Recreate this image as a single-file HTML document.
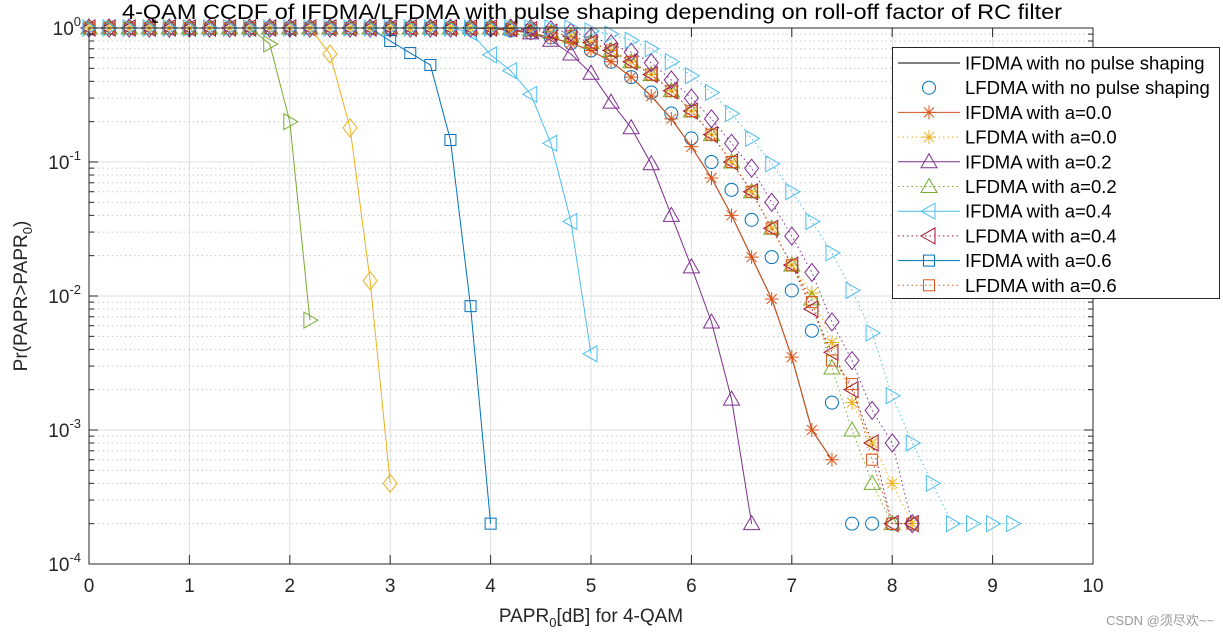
<!DOCTYPE html>
<html><head><meta charset="utf-8"><style>
body{margin:0;background:#fff;width:1223px;height:637px;overflow:hidden;font-family:"Liberation Sans",Arial,sans-serif}
svg text{font-family:"Liberation Sans",Arial,sans-serif}
</style></head><body>
<svg id="chart" width="1223" height="637" xmlns="http://www.w3.org/2000/svg">
<g id="grid"></g>
<g id="series"></g>
<g id="axes"></g>
<text x="122" y="19" font-size="21" textLength="940" lengthAdjust="spacingAndGlyphs">4-QAM CCDF of IFDMA/LFDMA with pulse shaping depending on roll-off factor of RC filter</text>
<text x="591" y="622" font-size="19" text-anchor="middle" fill="#262626">PAPR<tspan font-size="13" dy="5">0</tspan><tspan dy="-5">[dB] for 4-QAM</tspan></text>
<text transform="translate(27,296) rotate(-90)" font-size="19" text-anchor="middle" fill="#262626">Pr(PAPR&gt;PAPR<tspan font-size="13" dy="5">0</tspan><tspan dy="-5">)</tspan></text>
<g id="legend"></g>
<text x="1214" y="625" font-size="13" fill="#999" text-anchor="end" style="font-family:'Liberation Sans','Noto Sans CJK SC',sans-serif">CSDN @须尽欢~~</text>
</svg>
<script>
const xTicks=[0,1,2,3,4,5,6,7,8,9,10];
const yExps=[0,-1,-2,-3,-4];
const xStart=0, xStep=0.2;
const sIFDMA_no=[1,1,1,1,1,1,1,1,1,1,1,1,1,1,1,1,1,1,1,1,0.99,0.96,0.92,0.85,0.77,0.68,0.56,0.43,0.31,0.21,0.13,0.076,0.04,0.0195,0.0095,0.0035,0.001,0.0006];
const sLFDMA_no=[1,1,1,1,1,1,1,1,1,1,1,1,1,1,1,1,1,1,1,1,0.99,0.96,0.92,0.85,0.77,0.68,0.56,0.43,0.33,0.23,0.15,0.1,0.062,0.037,0.0195,0.011,0.0055,0.0016,0.0002,0.0002,0.0002,0.0002];
const sIFDMA_00=[1,1,1,1,1,1,1,1,1,1,1,1,1,1,1,1,1,1,1,1,0.99,0.96,0.92,0.85,0.77,0.68,0.56,0.43,0.31,0.21,0.13,0.076,0.04,0.0195,0.0095,0.0035,0.001,0.0006];
const sLFDMA_00=[1,1,1,1,1,1,1,1,1,1,1,1,1,1,1,1,1,1,1,1,1,0.99,0.97,0.93,0.87,0.78,0.68,0.56,0.45,0.34,0.24,0.16,0.1,0.06,0.032,0.017,0.0105,0.0045,0.0016,0.0008,0.0004,0.0002];
const sIFDMA_02=[1,1,1,1,1,1,1,1,1,1,1,1,1,1,1,1,1,1,1,1,1,0.99,0.92,0.81,0.64,0.46,0.28,0.18,0.097,0.04,0.0165,0.0064,0.0017,0.0002];
const sLFDMA_02=[1,1,1,1,1,1,1,1,1,1,1,1,1,1,1,1,1,1,1,1,1,0.99,0.97,0.93,0.87,0.78,0.68,0.56,0.45,0.34,0.24,0.16,0.1,0.06,0.032,0.017,0.0095,0.0029,0.001,0.0004,0.0002];
const sIFDMA_04=[1,1,1,1,1,1,1,1,1,1,1,1,1,1,1,1,1,1,1,0.93,0.63,0.48,0.32,0.138,0.036,0.0037];
const sLFDMA_04=[1,1,1,1,1,1,1,1,1,1,1,1,1,1,1,1,1,1,1,1,1,0.99,0.97,0.93,0.87,0.78,0.68,0.56,0.45,0.34,0.24,0.16,0.1,0.06,0.032,0.017,0.008,0.0038,0.002,0.0008,0.0002,0.0002];
const sIFDMA_06=[1,1,1,1,1,1,1,1,1,1,1,1,1,1,1,0.8,0.65,0.53,0.146,0.0084,0.0002];
const sLFDMA_06=[1,1,1,1,1,1,1,1,1,1,1,1,1,1,1,1,1,1,1,1,1,0.99,0.97,0.93,0.87,0.78,0.68,0.56,0.45,0.34,0.24,0.16,0.1,0.06,0.032,0.017,0.009,0.0033,0.0022,0.0006,0.0002,0.0002];
const sIFDMA_08=[1,1,1,1,1,1,1,1,1,1,1,1,0.64,0.18,0.013,0.0004];
const sLFDMA_08=[1,1,1,1,1,1,1,1,1,1,1,1,1,1,1,1,1,1,1,1,1,1,0.99,0.97,0.93,0.86,0.76,0.66,0.55,0.41,0.3,0.21,0.138,0.09,0.05,0.028,0.015,0.0064,0.0033,0.0014,0.0008,0.0002];
const sIFDMA_10=[1,1,1,1,1,1,1,1,1,0.76,0.2,0.0066];
const sLFDMA_10=[1,1,1,1,1,1,1,1,1,1,1,1,1,1,1,1,1,1,1,1,1,1,1,1,1,0.95,0.9,0.81,0.7,0.56,0.44,0.33,0.23,0.15,0.097,0.06,0.036,0.021,0.011,0.0053,0.0018,0.0008,0.0004,0.0002,0.0002,0.0002,0.0002];

const NS="http://www.w3.org/2000/svg";
const L=89,R=1093,T=28,B=564;
function xs(v){return L+(v-0)/10*(R-L);}
function ys(p){return T+(-Math.log10(p))/4*(B-T);}
function mk(tag,attrs,parent){const e=document.createElementNS(NS,tag);for(const k in attrs)e.setAttribute(k,attrs[k]);parent.appendChild(e);return e;}
const grid=document.getElementById('grid'),axes=document.getElementById('axes'),ser=document.getElementById('series'),leg=document.getElementById('legend');
xTicks.forEach(t=>{const x=xs(t);
 const g=mk('line',{x1:x,x2:x,y1:T,y2:B,stroke:'#dfdfdf','stroke-width':1},grid);
 
 
 const tk=mk('line',{x1:x,x2:x,y1:B,y2:B-9,stroke:'#262626'},axes);
 
 
 const tk2=mk('line',{x1:x,x2:x,y1:T,y2:T+9,stroke:'#262626'},axes);
 
 
 const tl=mk('text',{x:x,y:B+28,'font-size':19,'text-anchor':'middle',fill:'#262626'},axes);tl.textContent=t;
 
 
});
yExps.forEach(e=>{const y=ys(Math.pow(10,e));
 const g=mk('line',{x1:L,x2:R,y1:y,y2:y,stroke:'#dfdfdf'},grid);
 
 
 const tk=mk('line',{x1:L,x2:L+9,y1:y,y2:y,stroke:'#262626'},axes);
 
 
 const tk2=mk('line',{x1:R,x2:R-9,y1:y,y2:y,stroke:'#262626'},axes);
 
 
 const tl=mk('text',{x:L-8,y:y+7,'font-size':19,'text-anchor':'end',fill:'#262626'},axes);
 tl.innerHTML='10<tspan font-size="13" dy="-9">'+e+'</tspan>';
 
 
 if(e>-4){for(let m=2;m<=9;m++){const ym=ys(m*Math.pow(10,e-1));
  const mg=mk('line',{x1:L,x2:R,y1:ym,y2:ym,stroke:'#c8c8c8','stroke-dasharray':'1.5,3'},grid);
  
  
  const mt=mk('line',{x1:L,x2:L+5,y1:ym,y2:ym,stroke:'#262626'},axes);
  
  
  const mt2=mk('line',{x1:R,x2:R-5,y1:ym,y2:ym,stroke:'#262626'},axes);
  
  
 }}
});
const box=mk('rect',{x:L,y:T,width:R-L,height:B-T,fill:'none',stroke:'#262626'},axes);



function marker(g,type,x,y,c){let e;
 if(type==='o')e=mk('circle',{cx:x,cy:y,r:6.5,fill:'none',stroke:c},g);
 else if(type==='sq')e=mk('rect',{x:x-5.5,y:y-5.5,width:11,height:11,fill:'none',stroke:c},g);
 else if(type==='d')e=mk('polygon',{points:`${x},${y-9} ${x+7},${y} ${x},${y+9} ${x-7},${y}`,fill:'none',stroke:c},g);
 else if(type==='^')e=mk('polygon',{points:`${x},${y-8} ${x+8},${y+6} ${x-8},${y+6}`,fill:'none',stroke:c},g);
 else if(type==='<')e=mk('polygon',{points:`${x-8},${y} ${x+6},${y-8} ${x+6},${y+8}`,fill:'none',stroke:c},g);
 else if(type==='>')e=mk('polygon',{points:`${x+8},${y} ${x-6},${y-8} ${x-6},${y+8}`,fill:'none',stroke:c},g);
 else if(type==='*'){e=mk('path',{d:`M${x-7},${y}H${x+7}M${x},${y-7}V${y+7}M${x-5},${y-5}L${x+5},${y+5}M${x-5},${y+5}L${x+5},${y-5}`,fill:'none',stroke:c},g);}
 if(e){
 }
}
const defs=[
 ['IFDMA with no pulse shaping',sIFDMA_no,'#000000',null,false,true],
 ['LFDMA with no pulse shaping',sLFDMA_no,'#0072BD','o',false,false],
 ['IFDMA with a=0.0',sIFDMA_00,'#D95319','*',false,true],
 ['LFDMA with a=0.0',sLFDMA_00,'#EDB120','*',true,true],
 ['IFDMA with a=0.2',sIFDMA_02,'#7E2F8E','^',false,true],
 ['LFDMA with a=0.2',sLFDMA_02,'#77AC30','^',true,true],
 ['IFDMA with a=0.4',sIFDMA_04,'#4DBEEE','<',false,true],
 ['LFDMA with a=0.4',sLFDMA_04,'#A2142F','<',true,true],
 ['IFDMA with a=0.6',sIFDMA_06,'#0072BD','sq',false,true],
 ['LFDMA with a=0.6',sLFDMA_06,'#D95319','sq',true,true],
 ['IFDMA with a=0.8',sIFDMA_08,'#EDB120','d',false,true],
 ['LFDMA with a=0.8',sLFDMA_08,'#7E2F8E','d',true,true],
 ['IFDMA with a=1.0',sIFDMA_10,'#77AC30','>',false,true],
 ['LFDMA with a=1.0',sLFDMA_10,'#4DBEEE','>',true,true]];
defs.forEach((d,i)=>{const [name,vals,c,m,dot,line]=d;
 const g=mk('g',{},ser);
 
 
 const pts=vals.map((v,k)=>[xs(xStart+k*xStep),ys(v)]);
 if(line){const pl=mk('polyline',{points:pts.map(p=>p.join(',')).join(' '),fill:'none',stroke:c,'stroke-width':1,'stroke-dasharray':dot?'1.5,3':'none'},g);
  
  }
 if(m)pts.forEach(p=>marker(g,m,p[0],p[1],c));
 if(i<10){const y=63+i*24.7;
  const lg=mk('g',{},leg);
  
  
  if(line){mk('line',{x1:898,x2:960,y1:y,y2:y,stroke:c,'stroke-dasharray':dot?'1.5,3':'none'},lg);}
  if(m)marker(lg,m,929,y,c);
  const t=mk('text',{x:965,y:y+6.5,'font-size':18.5,fill:'#000'},lg);t.textContent=name;
 }
});
const lb=mk('rect',{x:892.5,y:47.5,width:327,height:251,fill:'#fff',stroke:'#262626'},leg);
leg.insertBefore(lb,leg.firstChild);


</script>
</body></html>
